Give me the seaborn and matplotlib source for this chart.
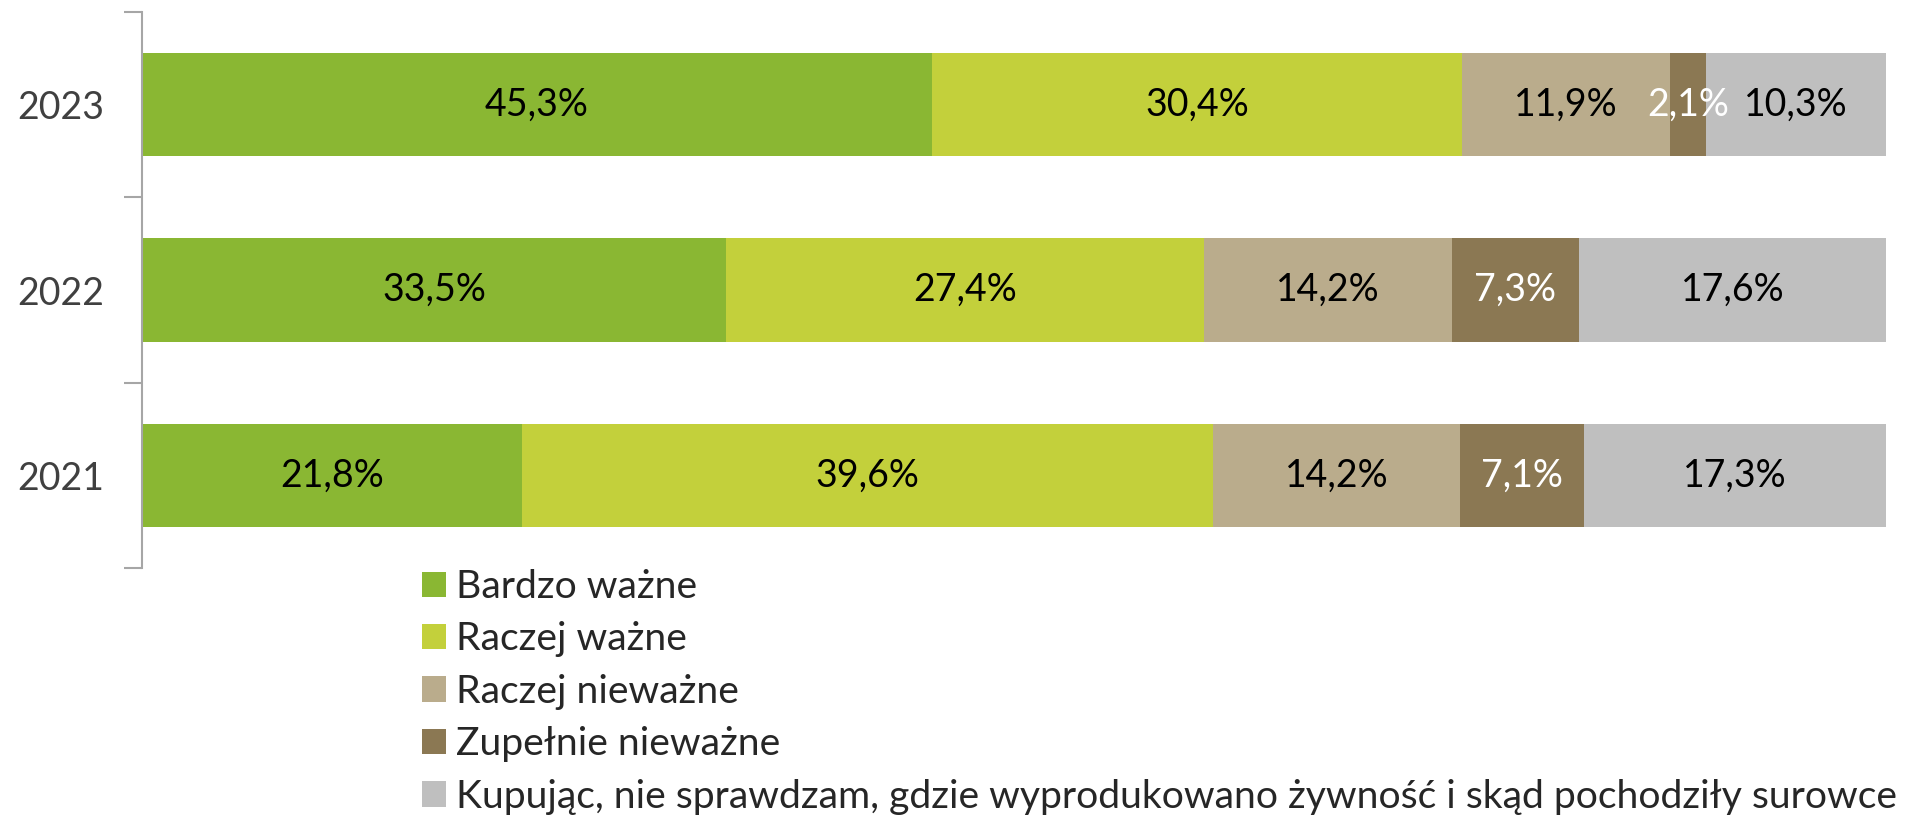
import matplotlib
matplotlib.use("Agg")
import matplotlib.pyplot as plt
import numpy as np
import pandas as pd
import seaborn as sns
from matplotlib.patches import Patch

# Survey answers per year (percent of respondents)
years = ["2023", "2022", "2021"]
categories = [
    "Bardzo ważne",
    "Raczej ważne",
    "Raczej nieważne",
    "Zupełnie nieważne",
    "Kupując, nie sprawdzam, gdzie wyprodukowano żywność i skąd pochodziły surowce",
]
bardzo_wazne = [45.3, 33.5, 21.8]
raczej_wazne = [30.4, 27.4, 39.6]
raczej_niewazne = [11.9, 14.2, 14.2]
zupelnie_niewazne = [2.1, 7.3, 7.1]
nie_sprawdzam = [10.3, 17.6, 17.3]

colors = ["#8AB733", "#C3D03B", "#BAAC8C", "#8B7853", "#BFBFBF"]
label_colors = ["black", "black", "black", "white", "black"]

sns.set_theme(style="white")
plt.rcParams["font.family"] = ["Lato", "DejaVu Sans"]

series = [bardzo_wazne, raczej_wazne, raczej_niewazne, zupelnie_niewazne, nie_sprawdzam]
values = np.array(series)  # shape: (categories, years)
cum = np.cumsum(values, axis=0)

fig = plt.figure(figsize=(19.11, 8.21), dpi=100)
ax = fig.add_axes([142 / 1911, 1 - 568 / 821, (1886 - 142) / 1911, (568 - 12) / 821])

# Stacked bars: draw cumulative totals from the outermost segment inward
for i in range(len(categories) - 1, -1, -1):
    df = pd.DataFrame({"rok": years, "wartosc": cum[i]})
    sns.barplot(data=df, x="wartosc", y="rok", order=years, orient="h",
                color=colors[i], saturation=1, width=0.557, linewidth=0, ax=ax)

# Value labels centred in each segment
for i in range(len(categories)):
    for j, yr in enumerate(years):
        v = values[i, j]
        xc = cum[i, j] - v / 2
        ax.text(xc, j, f"{v:.1f}%".replace(".", ","), ha="center", va="center",
                fontsize=27, color=label_colors[i])

ax.set_xlim(0, 100)
ax.set_ylim(2.5, -0.5)
ax.set_xlabel("")
ax.set_ylabel("")
ax.set_xticks([])
for s in ["top", "right", "bottom"]:
    ax.spines[s].set_visible(False)
ax.spines["left"].set_color("#A6A6A6")
ax.spines["left"].set_linewidth(1.5)
ax.tick_params(axis="y", which="major", length=0, pad=27, labelsize=27, labelcolor="#404040")
ax.set_yticks([-0.5, 0.5, 1.5, 2.5], minor=True)
ax.tick_params(axis="y", which="minor", length=13, width=1.5, color="#A6A6A6", left=True)

handles = [Patch(facecolor=c, edgecolor="none") for c in colors]
fig.legend(handles, categories, loc="upper left", bbox_to_anchor=(422 / 1911, 1 - 569 / 821),
           frameon=False, fontsize=28.2, handlelength=0.62, handleheight=0.62,
           handletextpad=0.26, labelspacing=0.42, borderpad=0, borderaxespad=0)

fig.savefig("out.png", dpi=100)
